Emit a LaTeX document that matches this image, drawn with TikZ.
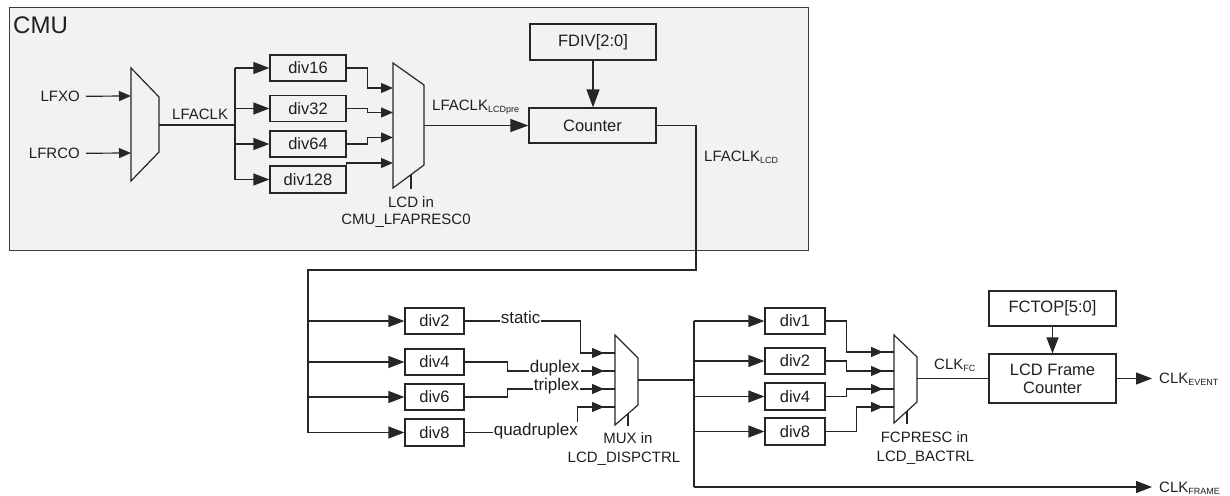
\documentclass[tikz,border=0pt]{standalone}
\usepackage{fontspec}
\setmainfont{Liberation Sans}
\usetikzlibrary{arrows.meta}
\definecolor{cmubg}{HTML}{F2F2F2}
\definecolor{cmuedge}{HTML}{3A3A3A}
\definecolor{wirec}{HTML}{262626}
\definecolor{txt}{HTML}{1F1F1F}
\newcommand\fL{\fontsize{15}{18}\selectfont}
\newcommand\fB{\fontsize{16.5}{18}\selectfont}
\newcommand\fW{\fontsize{17}{19}\selectfont}
\newcommand\mysub[1]{\raisebox{-2pt}{\fontsize{9}{10}\selectfont #1}}
\begin{document}
\begin{tikzpicture}[x=1pt,y=-1pt,
  wire/.style={draw=wirec,line width=1.2pt},
  arrA/.style={wire,-{Triangle[length=12pt,width=10pt]}},
  arrM/.style={wire,-{Triangle[length=16pt,width=12pt]}},
  arrB/.style={wire,-{Triangle[length=18pt,width=13pt]}},
  box/.style={draw=wirec,line width=1.2pt,inner sep=0pt,font=\fB,text=txt,align=center},
  lbl/.style={inner sep=0pt,font=\fL,text=txt},
  wlbl/.style={inner sep=0.6pt,font=\fW,text=txt,fill=white},
  muxs/.style={draw=wirec,line width=1.2pt,line join=miter}]
\useasboundingbox (0,0) rectangle (1230,495);

% ---------------- CMU block ----------------
\node[draw=cmuedge,fill=cmubg,line width=1.2pt,minimum width=799pt,minimum height=243pt,
      inner sep=0pt,anchor=north west] (cmu) at (9,7) {};
\node[lbl,font=\fontsize{24}{28}\selectfont,anchor=base west] (cmut) at (13,33.6) {CMU};

\node[lbl,anchor=base east] (lfxo) at (80,101.4) {LFXO};
\node[lbl,anchor=base east] (lfrco) at (80,158.4) {LFRCO};

% mux 1
\coordinate (m1tl) at (131,68);  \coordinate (m1tr) at (159,97);
\coordinate (m1br) at (159,152); \coordinate (m1bl) at (131,181);
\draw[muxs] (m1tl) -- (m1tr) -- (m1br) -- (m1bl) -- cycle;
\coordinate (m1a) at (131,96);  \coordinate (m1b) at (131,153);
\coordinate (m1o) at (159,125); \coordinate (b1) at (235,125);
\draw[arrA] ([xshift=6pt]lfxo.east) -- (m1a);
\draw[arrA] ([xshift=6pt]lfrco.east) -- (m1b);

\node[lbl,anchor=base west] (lfaclk) at (172,119.7) {LFACLK};

% dividers
\node[box,minimum width=76pt,minimum height=26pt] (div16) at (308,68) {div16};
\node[box,minimum width=76pt,minimum height=26pt] (div32) at (308,108.5) {div32};
\node[box,minimum width=76pt,minimum height=26pt] (div64) at (308,144) {div64};
\node[box,minimum width=76pt,minimum height=27pt] (div128) at (308,179.5) {div128};

\draw[wire] (m1o) -- (b1);
\draw[wire] (div16.west -| b1) -- (div128.west -| b1);
\draw[arrM] (div16.west -| b1) -- (div16.west);
\draw[arrM] (div32.west -| b1) -- (div32.west);
\draw[arrM] (div64.west -| b1) -- (div64.west);
\draw[arrM] (div128.west -| b1) -- (div128.west);

% mux 2
\coordinate (m2tl) at (393,63);  \coordinate (m2tr) at (424,85);
\coordinate (m2br) at (424,165); \coordinate (m2bl) at (393,188);
\draw[muxs] (m2tl) -- (m2tr) -- (m2br) -- (m2bl) -- cycle;
\coordinate (m2i1) at (393,88);  \coordinate (m2i2) at (393,112.5);
\coordinate (m2i3) at (393,137.5); \coordinate (m2i4) at (393,163);
\coordinate (m2o) at (424,125.5);
\coordinate (m2s1) at (411,174.6); \coordinate (m2s2) at (411,189);
\draw[wire] (m2s1) -- (m2s2);
\draw[arrA] (div16.east) -- ++(21,0) |- (m2i1);
\draw[arrA] (div32.east) -- ++(21,0) |- (m2i2);
\draw[arrA] (div64.east) -- ++(21,0) |- (m2i3);
\draw[arrA] (div128.north east) |- (m2i4);

\node[lbl,anchor=base] (lcdin) at (411,207.4) {LCD in};
\node[lbl,anchor=base] (lfapresc) at (406,224) {CMU\_LFAPRESC0};

% counter
\node[box,minimum width=126pt,minimum height=36pt] (fdiv) at (593,42) {FDIV[2:0]};
\node[box,minimum width=127pt,minimum height=35pt] (counter) at (592.5,125.5) {Counter};
\draw[arrB] (m2o) -- (counter.west);
\draw[arrB] (fdiv.south) -- (fdiv.south |- counter.north);
\node[lbl,anchor=base west] (lcdpre) at (432,110.4) {LFACLK\mysub{LCDpre}};
\node[lbl,anchor=base west] (lcdclk) at (704,161.4) {LFACLK\mysub{LCD}};

% ---------------- LCD section ----------------
\coordinate (c1) at (696,125.5);
\coordinate (c3) at (308,270);

\node[box,minimum width=59pt,minimum height=26pt] (ldiv2) at (434.5,321) {div2};
\node[box,minimum width=59pt,minimum height=26pt] (ldiv4) at (434.5,362) {div4};
\node[box,minimum width=59pt,minimum height=26pt] (ldiv6) at (434.5,397) {div6};
\node[box,minimum width=59pt,minimum height=27pt] (ldiv8) at (434.5,432.5) {div8};

\draw[wire] (counter.east) -- (c1) |- (c3) -- (c3 |- ldiv8.west);
\draw[arrM] (c3 |- ldiv2.west) -- (ldiv2.west);
\draw[arrM] (c3 |- ldiv4.west) -- (ldiv4.west);
\draw[arrM] (c3 |- ldiv6.west) -- (ldiv6.west);
\draw[arrM] (c3 |- ldiv8.west) -- (ldiv8.west);

% mux 3
\coordinate (m3tl) at (615,335);  \coordinate (m3tr) at (638,358);
\coordinate (m3br) at (638,405);  \coordinate (m3bl) at (615,425);
\draw[muxs] (m3tl) -- (m3tr) -- (m3br) -- (m3bl) -- cycle;
\coordinate (m3i1) at (615,353); \coordinate (m3i2) at (615,371);
\coordinate (m3i3) at (615,389); \coordinate (m3i4) at (615,407);
\coordinate (m3o) at (638,380);
\coordinate (m3s1) at (628,413.7); \coordinate (m3s2) at (628,426);
\draw[wire] (m3s1) -- (m3s2);

\draw[wire] (ldiv2.east) -- ++(116,0) |- (m3i1);
\draw[wire] (ldiv4.east) -- ++(43,0) |- (m3i2);
\draw[wire] (ldiv6.east) -- ++(43,0) |- (m3i3);
\draw[wire] (ldiv8.east) -- ++(113,0) |- (m3i4);
\foreach \i in {1,2,3,4}{
  \draw[arrA] ([xshift=-24pt]m3i\i) -- ([xshift=-11pt]m3i\i);
}
\node[wlbl,anchor=mid west] (tstatic) at (500,321) {static};
\node[wlbl,anchor=mid west] (tduplex) at (529,370) {duplex};
\node[wlbl,anchor=mid west] (ttriplex) at (533,388) {triplex};
\node[wlbl,anchor=mid west] (tquad) at (493,432.5) {quadruplex};

\node[lbl,anchor=base] (muxin) at (628,443) {MUX in};
\node[lbl,anchor=base] (dispctrl) at (624,462) {LCD\_DISPCTRL};

% bus 2
\coordinate (b3) at (694,380);
\coordinate (bb) at (694,487);
\coordinate (fr) at (1152,487);
\node[box,minimum width=60pt,minimum height=26pt] (rdiv1) at (795,321) {div1};
\node[box,minimum width=60pt,minimum height=26pt] (rdiv2) at (795,361) {div2};
\node[box,minimum width=60pt,minimum height=27pt] (rdiv4) at (795,396.5) {div4};
\node[box,minimum width=60pt,minimum height=27pt] (rdiv8) at (795,431.5) {div8};

\draw[wire] (m3o) -- (b3);
\draw[wire] (rdiv1.west -| b3) -- (bb);
\draw[arrM] (bb) -- (fr);
\draw[arrM] (rdiv1.west -| b3) -- (rdiv1.west);
\draw[arrM] (rdiv2.west -| b3) -- (rdiv2.west);
\draw[arrM] (rdiv4.west -| b3) -- (rdiv4.west);
\draw[arrM] (rdiv8.west -| b3) -- (rdiv8.west);

% mux 4
\coordinate (m4tl) at (894,335);  \coordinate (m4tr) at (917,357);
\coordinate (m4br) at (917,402);  \coordinate (m4bl) at (894,423);
\draw[muxs] (m4tl) -- (m4tr) -- (m4br) -- (m4bl) -- cycle;
\coordinate (m4i1) at (894,352); \coordinate (m4i2) at (894,371);
\coordinate (m4i3) at (894,389); \coordinate (m4i4) at (894,407);
\coordinate (m4o) at (917,378.5);
\coordinate (m4s1) at (907,411); \coordinate (m4s2) at (907,424);
\draw[wire] (m4s1) -- (m4s2);

\draw[wire] (rdiv1.east) -- ++(21,0) |- (m4i1);
\draw[wire] (rdiv2.east) -- ++(21,0) |- (m4i2);
\draw[wire] (rdiv4.east) -- ++(21,0) |- (m4i3);
\draw[wire] (rdiv8.east) -- ++(31,0) |- (m4i4);
\foreach \i in {1,2,3,4}{
  \draw[arrA] ([xshift=-24pt]m4i\i) -- ([xshift=-11pt]m4i\i);
}
\node[lbl,anchor=base] (fcpresc) at (924.5,442) {FCPRESC in};
\node[lbl,anchor=base] (bactrl) at (925.5,461) {LCD\_BACTRL};

% frame counter
\node[box,minimum width=127pt,minimum height=35pt] (fctop) at (1052.5,308.5) {FCTOP[5:0]};
\node[box,minimum width=127pt,minimum height=49pt] (lcdfc) at (1052.5,378.5) {LCD Frame\\Counter};
\draw[wire] (m4o) -- (lcdfc.west);
\draw[arrM] (fctop.south) -- (lcdfc.north);
\node[lbl,anchor=base west] (clkfc) at (934,369.4) {CLK\mysub{FC}};
\coordinate (ev) at (1152,378.5);
\draw[arrM] (lcdfc.east) -- (ev);
\node[lbl,anchor=base west] (clkev) at (1159,383.5) {CLK\mysub{EVENT}};
\node[lbl,anchor=base west] (clkfr) at (1159,492.7) {CLK\mysub{FRAME}};
\end{tikzpicture}
\end{document}
